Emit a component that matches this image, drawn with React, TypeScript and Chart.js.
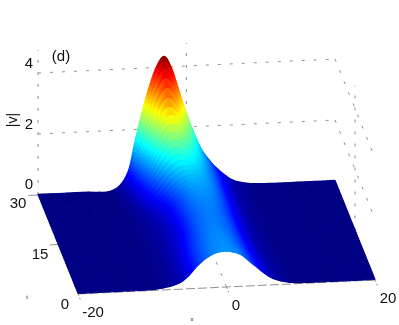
import React, { useEffect, useRef } from "react";
import { Chart, registerables } from "chart.js";

Chart.register(...registerables);

const xGrid = [-20, -14, -10, -8, -7, -6, -5, -4, -3, -2, -1, 0, 1, 2, 3, 4, 6, 8, 10, 14, 20];
const tGrid = [30, 27, 24, 20, 15, 10, 5, 0];
const v30 = [.02, .02, .03, .55, 1.55, 2.55, 3.4, 4.05, 4.35, 3.95, 3.2, 2.45, 1.8, 1.25, .9, .62, .22, .07, .03, .02, .02];
const v27 = [.02, .02, .03, .32, .8, 1.4, 2.1, 2.7, 3.0, 2.85, 2.4, 1.95, 1.55, 1.2, .9, .62, .2, .06, .03, .02, .02];
const v24 = [.02, .02, .03, .18, .42, .75, 1.1, 1.45, 1.7, 1.78, 1.7, 1.55, 1.35, 1.1, .85, .58, .19, .06, .03, .02, .02];
const v20 = [.02, .02, .03, .1, .18, .3, .46, .7, .95, 1.15, 1.26, 1.26, 1.18, 1.02, .8, .55, .18, .06, .03, .02, .02];
const v15 = [.02, .02, .03, .08, .13, .2, .32, .52, .75, .95, 1.06, 1.1, 1.06, .93, .74, .52, .18, .06, .03, .02, .02];
const v10 = [.02, .02, .03, .08, .13, .22, .35, .55, .77, .95, 1.05, 1.08, 1.03, .92, .74, .53, .19, .06, .03, .02, .02];
const v5 = [.02, .02, .03, .08, .14, .24, .42, .66, .87, 1.02, 1.11, 1.13, 1.07, .95, .77, .57, .21, .07, .03, .02, .02];
const v0 = [.02, .02, .03, .09, .15, .25, .45, .72, .93, 1.08, 1.16, 1.17, 1.13, 1.03, .83, .62, .24, .08, .03, .02, .02];
const vRows = [v30, v27, v24, v20, v15, v10, v5, v0];

const xTicks = [-20, 0, 20];
const tTicks = [0, 15, 30];
const zTicks = [0, 2, 4];
const zTop = 4.75;
const zMaxColor = 4.35;

// orthographic view of the 3D box
const project = (x: number, t: number, z: number) => ({
  x: 78 + 7.425 * (x + 20) - 1.333 * t,
  y: 294 - 0.35 * (x + 20) - 3.3 * t - 30.5 * z,
});

const jet = (f: number) => {
  const c = Math.max(0, Math.min(1, f));
  const ch = (d: number) => Math.round(255 * Math.max(0, Math.min(1, 1.5 - Math.abs(4 * c - d))));
  return `rgb(${ch(3)},${ch(2)},${ch(1)})`;
};

const cr = (a: number, b: number, c: number, d: number, s: number) =>
  0.5 * (2 * b + (c - a) * s + (2 * a - 5 * b + 4 * c - d) * s * s + (3 * b - a - 3 * c + d) * s * s * s);

const surfacePlugin = {
  id: "surface",
  afterDatasetsDraw(chart: any) {
    const ctx = chart.ctx;
    const rows: { px: number[]; py: number[]; z: number[] }[] = [];
    chart.data.datasets.forEach((ds: any, i: number) => {
      if (!ds.zValues) return;
      const pts = chart.getDatasetMeta(i).data;
      rows.push({ px: pts.map((p: any) => p.x), py: pts.map((p: any) => p.y), z: ds.zValues });
    });
    const nr = rows.length;
    const nc = rows[0].z.length;
    const sub = 6;
    const clampIdx = (v: number, n: number) => Math.max(0, Math.min(n - 1, v));
    const sample = (r: number, c: number, key: "px" | "py" | "z") => {
      const r0 = Math.min(Math.floor(r), nr - 2);
      const c0 = Math.min(Math.floor(c), nc - 2);
      const sr = r - r0;
      const sc = c - c0;
      const col: number[] = [];
      for (let k = -1; k <= 2; k++) {
        const row = rows[clampIdx(r0 + k, nr)][key];
        col.push(cr(row[clampIdx(c0 - 1, nc)], row[c0], row[c0 + 1], row[clampIdx(c0 + 2, nc)], sc));
      }
      return cr(col[0], col[1], col[2], col[3], sr);
    };
    ctx.save();
    ctx.lineWidth = 1.1;
    ctx.lineJoin = "round";
    for (let ri = 0; ri < (nr - 1) * sub; ri++) {
      for (let ci = (nc - 1) * sub - 1; ci >= 0; ci--) {
        const r0 = ri / sub, r1 = (ri + 1) / sub, c0 = ci / sub, c1 = (ci + 1) / sub;
        const corners = [[r0, c0], [r0, c1], [r1, c1], [r1, c0]];
        let zm = 0;
        ctx.beginPath();
        corners.forEach(([r, c], k) => {
          const px = sample(r, c, "px");
          const py = sample(r, c, "py");
          zm += sample(r, c, "z") / 4;
          if (k === 0) ctx.moveTo(px, py);
          else ctx.lineTo(px, py);
        });
        ctx.closePath();
        const col = jet(zm / zMaxColor);
        ctx.fillStyle = col;
        ctx.strokeStyle = col;
        ctx.fill();
        ctx.stroke();
      }
    }
    ctx.restore();
  },
};

const FONT = '"Liberation Sans", Arial, sans-serif';
const textLabels = [
  { s: "(d)", x: 61, y: 57, size: 15 },
  { s: "4", x: 29, y: 64, size: 15 },
  { s: "2", x: 29, y: 125, size: 15 },
  { s: "0", x: 29, y: 185, size: 15 },
  { s: "30", x: 18, y: 204, size: 15 },
  { s: "15", x: 40, y: 255, size: 15 },
  { s: "0", x: 65, y: 305, size: 15 },
  { s: "-20", x: 93, y: 313, size: 15 },
  { s: "0", x: 236, y: 306, size: 15 },
  { s: "20", x: 388, y: 299, size: 15 },
  { s: "t", x: 27, y: 297, size: 6 },
  { s: "x", x: 192, y: 319, size: 6 },
];

const textPlugin = {
  id: "labels3d",
  afterDraw(chart: any) {
    const ctx = chart.ctx;
    ctx.save();
    ctx.fillStyle = "#111";
    ctx.textAlign = "center";
    ctx.textBaseline = "middle";
    textLabels.forEach((l) => {
      ctx.font = `${l.size}px ${FONT}`;
      ctx.fillText(l.s, l.x, l.y);
    });
    ctx.translate(13, 120);
    ctx.rotate(-Math.PI / 2);
    ctx.font = `14px ${FONT}`;
    ctx.fillText("|v|", 0, 0);
    ctx.restore();
  },
};

const gridLine = (a: number[], b: number[], dash: number[] = [3, 9]) => ({
  type: "line" as const,
  data: [project(a[0], a[1], a[2]), project(b[0], b[1], b[2])],
  borderColor: "#909090",
  borderWidth: 1,
  borderDash: dash,
  pointRadius: 0,
  fill: false,
  tension: 0,
});

export default function App() {
  const ref = useRef<HTMLCanvasElement | null>(null);
  useEffect(() => {
    document.body.style.margin = "0";
    const xMin = xTicks[0], xMax = xTicks[2], tMin = tTicks[0], tMax = tTicks[2];
    const lines: any[] = [];
    zTicks.forEach((z) => {
      lines.push(gridLine([xMin, tMax, z], [xMax, tMax, z]));
      if (z > 0) lines.push(gridLine([xMax, tMax, z], [xMax, tMin, z]));
    });
    lines.push(gridLine([xMin, tMax, 0], [xMin, tMax, zTop]));
    lines.push(gridLine([0, tMax, 0], [0, tMax, zTop]));
    lines.push(gridLine([xMax, 15, 0], [xMax, 15, zTop]));
    lines.push(gridLine([0, tMin, 0], [0, tMax, 0]));
    lines.push(gridLine([xMin, tMin, 0], [xMax, tMin, 0], [9, 3]));
    lines.push(gridLine([xMin, tMax, 0], [xMin - 1.3, tMax, 0], []));
    lines.push(gridLine([xMin, 15, 0], [xMin - 1.1, 15, 0], []));
    lines.push(gridLine([xMin, tMin, 0], [xMin, tMin - 1.8, 0], [2, 2]));
    lines.push(gridLine([0, tMin, 0], [0, tMin - 1.6, 0], [2, 2]));
    lines.push(gridLine([xMax, tMin, 0], [xMax, tMin - 1.8, 0], [2, 2]));
    const surface = tGrid.map((t, i) => ({
      type: "line" as const,
      data: xGrid.map((x) => project(x, t, vRows[i][xGrid.indexOf(x)])),
      zValues: vRows[i],
      showLine: false,
      pointRadius: 0,
    }));
    const chart = new Chart(ref.current as HTMLCanvasElement, {
      type: "line",
      data: { datasets: [...lines, ...surface] as any },
      options: {
        animation: false,
        responsive: false,
        layout: { padding: 0 },
        plugins: { legend: { display: false }, tooltip: { enabled: false } },
        scales: {
          x: { type: "linear", min: 0, max: 399, display: false },
          y: { type: "linear", min: 0, max: 325, reverse: true, display: false },
        },
      },
      plugins: [surfacePlugin, textPlugin],
    } as any);
    return () => chart.destroy();
  }, []);
  return <canvas ref={ref} width={399} height={325} style={{ display: "block" }} />;
}
